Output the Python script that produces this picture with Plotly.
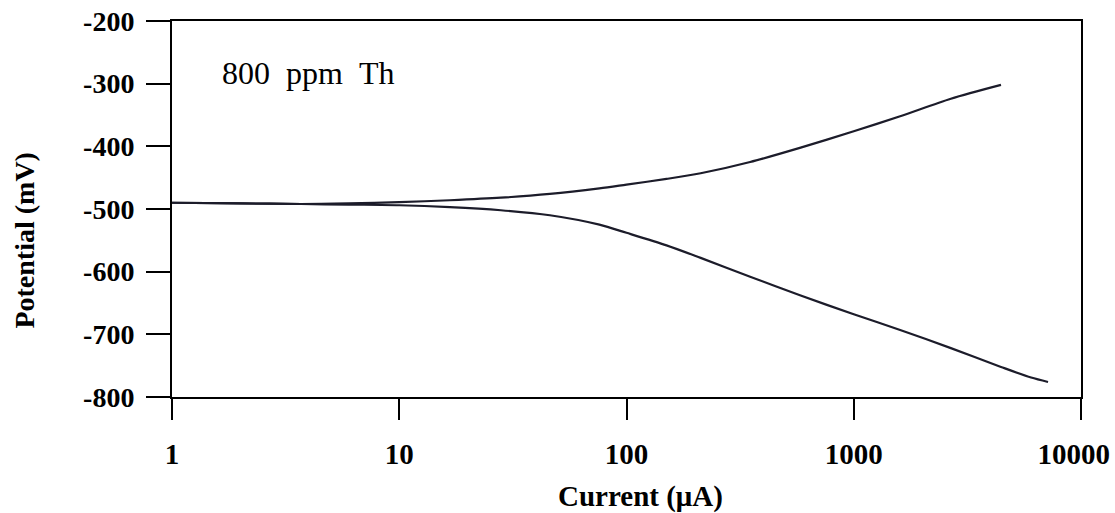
import plotly.graph_objects as go

# Polarization curves, 800 ppm Th
anodic_current = [1, 2, 3.7, 6, 10, 16.7, 28, 46, 76, 100, 150, 212, 350, 584, 1000, 1600, 2675, 4446]
anodic_potential = [-490, -491, -492, -491, -489, -486, -482, -476, -467, -461, -452, -443, -425, -402, -376, -352, -324, -302]

cathodic_current = [1, 2, 3.7, 6, 10, 16.7, 28, 46, 76, 100, 150, 212, 350, 584, 1000, 1600, 2675, 4446, 6030, 7160]
cathodic_potential = [-490, -491, -492, -493, -494, -497, -502, -510, -525, -538, -558, -578, -608, -638, -668, -693, -722, -752, -769, -776]

x_ticks = [1, 10, 100, 1000, 10000]
x_tick_labels = ["1", "10", "100", "1000", "10000"]
y_ticks = [-200, -300, -400, -500, -600, -700, -800]

line_style = dict(color="#1c1c2a", width=2.2, shape="spline", smoothing=0.8)

fig = go.Figure()
fig.add_trace(go.Scatter(x=anodic_current, y=anodic_potential, mode="lines",
                         line=line_style, showlegend=False))
fig.add_trace(go.Scatter(x=cathodic_current, y=cathodic_potential, mode="lines",
                         line=line_style, showlegend=False))

serif = "Liberation Serif"

# the last label is nudged left so it stays inside the page
x_text = [f"<b>{t}</b>" for t in x_tick_labels]
x_text[-1] = x_text[-1] + "\u00a0\u00a0"

fig.update_layout(
    width=1115, height=513,
    margin=dict(l=172, r=34, t=21, b=116),
    paper_bgcolor="white", plot_bgcolor="white",
    xaxis=dict(
        type="log", range=[0, 4], automargin=False,
        tickvals=x_ticks, ticktext=x_text,
        ticks="outside", ticklen=21, tickwidth=2, tickcolor="black",
        showline=True, linewidth=2, linecolor="black", mirror=True,
        showgrid=False, zeroline=False,
        tickfont=dict(family=serif, size=29, color="black"),
        ticklabelstandoff=9, ticklabeloverflow="allow",
    ),
    yaxis=dict(
        range=[-800, -200], automargin=False,
        tickvals=y_ticks, ticktext=[f"<b>{t}</b>" for t in y_ticks],
        ticks="outside", ticklen=24, tickwidth=2, tickcolor="black",
        showline=True, linewidth=2, linecolor="black", mirror=True,
        showgrid=False, zeroline=False,
        tickfont=dict(family=serif, size=28, color="black"),
        ticklabelstandoff=6, ticklabeloverflow="allow",
    ),
    annotations=[
        dict(text="800\u00a0\u00a0ppm\u00a0\u00a0Th", xref="paper", yref="paper",
             x=0.053, y=0.862, xanchor="left", yanchor="middle", showarrow=False,
             font=dict(family=serif, size=32, color="black")),
        dict(text="<b>Current (μA)</b>", xref="paper", yref="paper",
             x=0.515, y=-0.265, xanchor="center", yanchor="middle", showarrow=False,
             font=dict(family=serif, size=29, color="black")),
        dict(text="<b>Potential (mV)</b>", xref="paper", yref="paper",
             x=-0.162, y=0.418, xanchor="center", yanchor="middle", showarrow=False,
             textangle=-90, font=dict(family=serif, size=28, color="black")),
    ],
)

fig.write_html("out.html")
